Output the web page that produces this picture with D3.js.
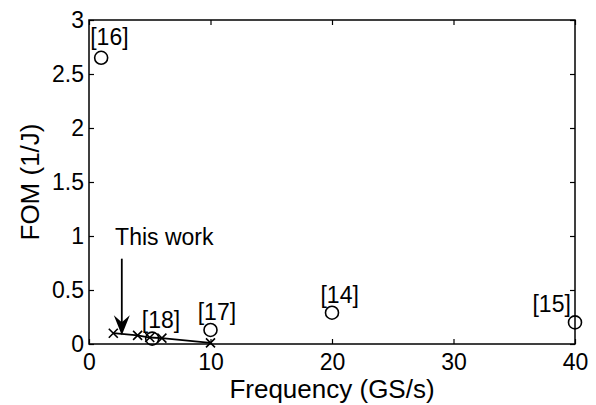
<!DOCTYPE html>
<html>
<head>
<meta charset="utf-8">
<script src="https://cdn.jsdelivr.net/npm/d3@7"></script>
<style>
  body { margin: 0; background: #fff; }
  text { font-family: "Liberation Sans", Arial, sans-serif; fill: #000; }
</style>
</head>
<body>
<div id="chart"></div>
<script>
// data
var workFreq = [2, 4, 5, 6, 10];
var workFom = [0.10, 0.08, 0.06, 0.055, 0.01];

var refNames = ["[16]", "[18]", "[17]", "[14]", "[15]"];
var refFreq = [1, 5.2, 10, 20, 40];
var refFom = [2.65, 0.05, 0.13, 0.29, 0.2];

// where each reference label sits (data units, start of text / baseline)
var refLabelX = [0.1, 4.35, 8.95, 19.05, 36.5];
var refLabelY = [2.77, 0.15, 0.22, 0.38, 0.3];

var xTicks = [0, 10, 20, 30, 40];
var yTicks = [0, 0.5, 1, 1.5, 2, 2.5, 3];

// set the dimensions and margins of the graph
var W = 596, H = 405;
var margin = {top: 20, right: 21, bottom: 61, left: 89},
    width = W - margin.left - margin.right,
    height = H - margin.top - margin.bottom;

var svg = d3.select("#chart")
  .append("svg")
    .attr("width", W)
    .attr("height", H)
  .append("g")
    .attr("transform", "translate(" + margin.left + "," + margin.top + ")");

var x = d3.scaleLinear().domain([0, 40]).range([0, width]);
var y = d3.scaleLinear().domain([0, 3]).range([height, 0]);

// axes, ticks pointing inwards
var xAxis = svg.append("g")
  .attr("transform", "translate(0," + height + ")")
  .call(d3.axisBottom(x).tickValues(xTicks).tickSize(-5).tickPadding(10));
var yAxis = svg.append("g")
  .call(d3.axisLeft(y).tickValues(yTicks).tickSize(-5).tickPadding(5)
        .tickFormat(function(d) { return String(d); }));
var topAxis = svg.append("g")
  .call(d3.axisTop(x).tickValues(xTicks).tickSize(-5).tickFormat(""));
var rightAxis = svg.append("g")
  .attr("transform", "translate(" + width + ",0)")
  .call(d3.axisRight(y).tickValues(yTicks).tickSize(-5).tickFormat(""));

[xAxis, yAxis, topAxis, rightAxis].forEach(function(a) {
  a.select(".domain").remove();
  a.selectAll("line").attr("stroke", "#000").attr("stroke-width", 1.2);
  a.selectAll("text").style("font-size", "23px").attr("fill", "#000");
});

// box
svg.append("rect")
  .attr("x", 0).attr("y", 0)
  .attr("width", width).attr("height", height)
  .attr("fill", "none")
  .attr("stroke", "#000")
  .attr("stroke-width", 1.5);

// axis titles
svg.append("text")
  .attr("x", width / 2)
  .attr("y", height + 54)
  .attr("text-anchor", "middle")
  .style("font-size", "26px")
  .text("Frequency (GS/s)");

svg.append("text")
  .attr("transform", "translate(" + (-50) + "," + (height / 2) + ")rotate(-90)")
  .attr("text-anchor", "middle")
  .style("font-size", "26px")
  .text("FOM (1/J)");

// this work: line with crosses
var work = workFreq.map(function(f, i) { return {f: f, v: workFom[i]}; });

svg.append("path")
  .datum(work)
  .attr("fill", "none")
  .attr("stroke", "#000")
  .attr("stroke-width", 1.8)
  .attr("d", d3.line().x(function(d) { return x(d.f); }).y(function(d) { return y(d.v); }));

svg.selectAll(".cross")
  .data(work)
  .enter()
  .append("path")
    .attr("class", "cross")
    .attr("transform", function(d) { return "translate(" + x(d.f) + "," + y(d.v) + ")"; })
    .attr("d", "M-4.5,-4.5L4.5,4.5M-4.5,4.5L4.5,-4.5")
    .attr("stroke", "#000")
    .attr("stroke-width", 1.6)
    .attr("fill", "none");

// references: open circles
var refs = refFreq.map(function(f, i) {
  return {f: f, v: refFom[i], name: refNames[i], lx: refLabelX[i], ly: refLabelY[i]};
});

svg.selectAll(".ref")
  .data(refs)
  .enter()
  .append("circle")
    .attr("class", "ref")
    .attr("cx", function(d) { return x(d.f); })
    .attr("cy", function(d) { return y(d.v); })
    .attr("r", 6.5)
    .attr("fill", "none")
    .attr("stroke", "#000")
    .attr("stroke-width", 1.6);

svg.selectAll(".reflabel")
  .data(refs)
  .enter()
  .append("text")
    .attr("class", "reflabel")
    .attr("x", function(d) { return x(d.lx); })
    .attr("y", function(d) { return y(d.ly); })
    .style("font-size", "23px")
    .text(function(d) { return d.name; });

// "This work" annotation with arrow
var arrowX = 2.7, arrowTop = 0.79, arrowTip = 0.08;

svg.append("text")
  .attr("x", x(2.15))
  .attr("y", y(0.92))
  .style("font-size", "23px")
  .text("This work");

svg.append("line")
  .attr("x1", x(arrowX)).attr("x2", x(arrowX))
  .attr("y1", y(arrowTop)).attr("y2", y(arrowTip) - 12)
  .attr("stroke", "#000")
  .attr("stroke-width", 1.8);

svg.append("path")
  .attr("transform", "translate(" + x(arrowX) + "," + y(arrowTip) + ")")
  .attr("d", "M0,0L-8,-20L0,-13L8,-20Z")
  .attr("fill", "#000");
</script>
</body>
</html>
